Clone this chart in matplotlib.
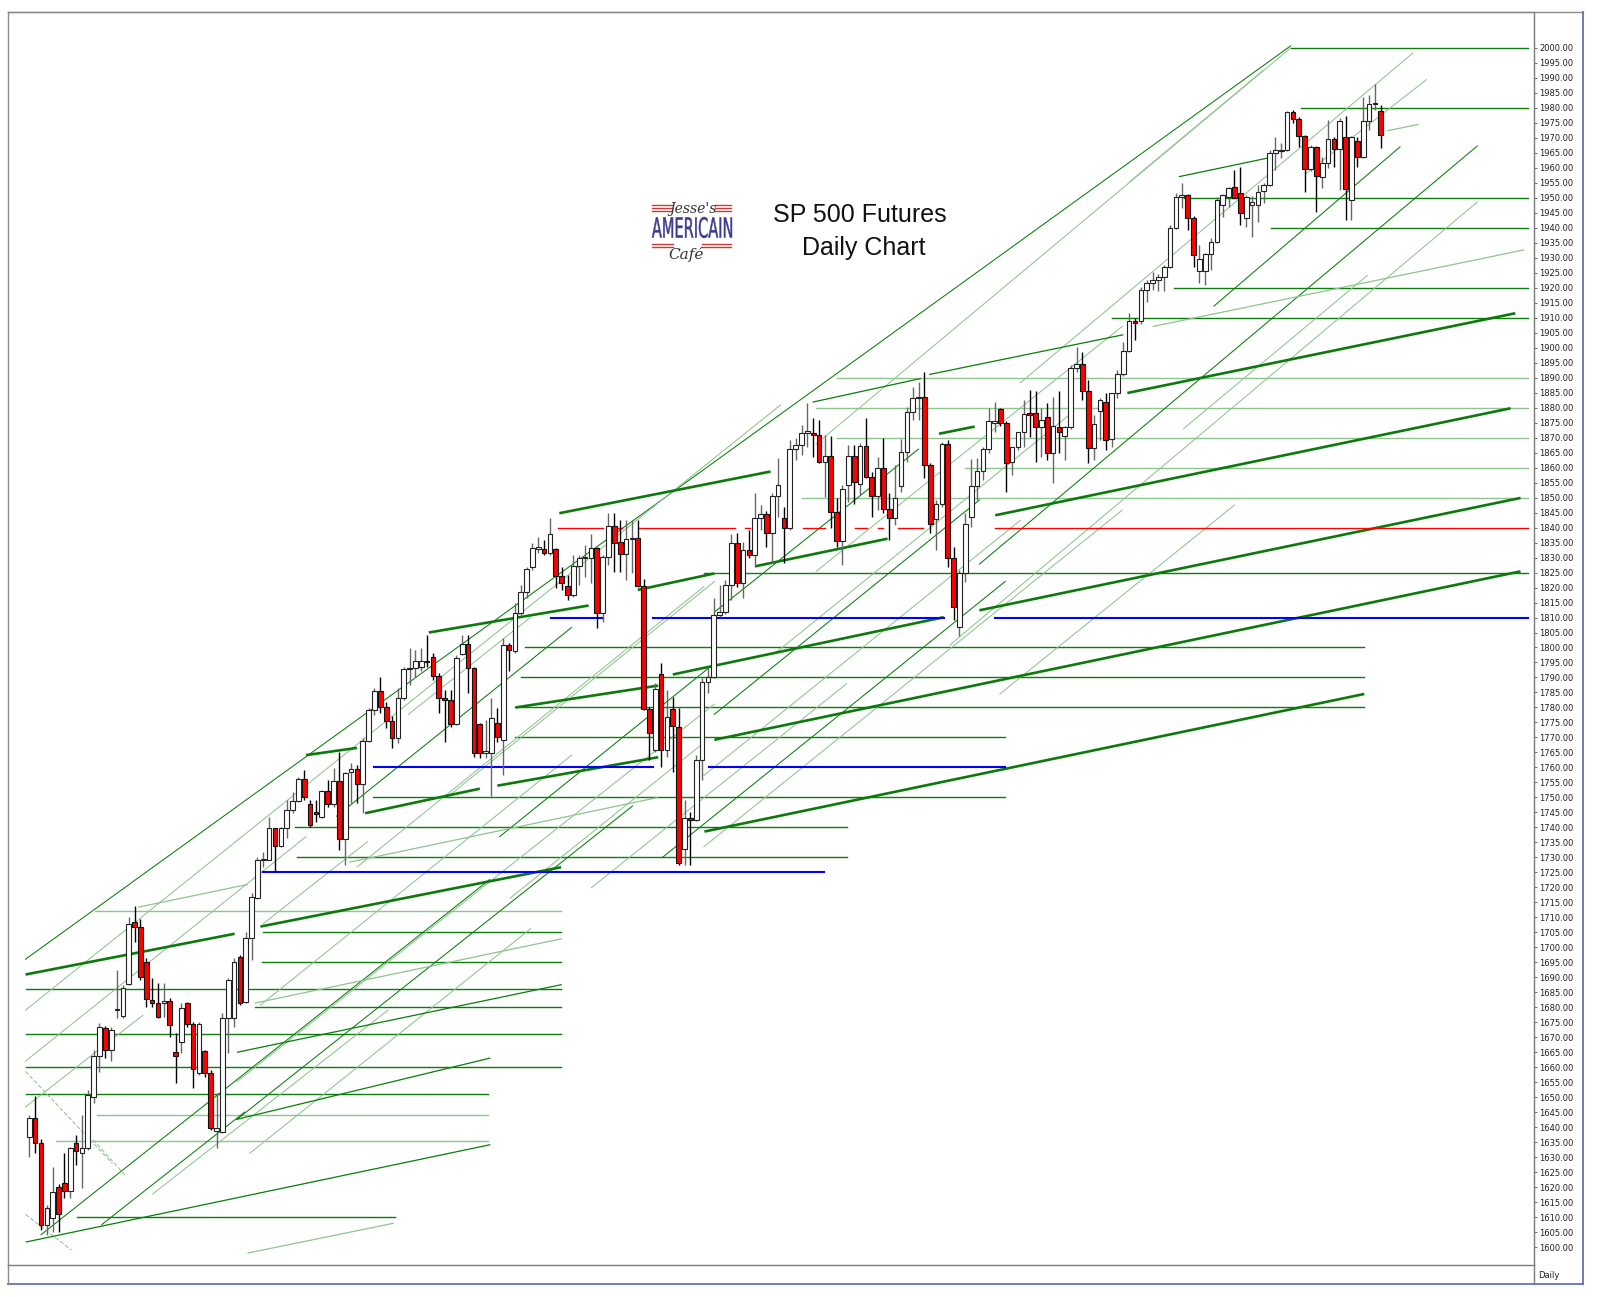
import numpy as np
import matplotlib
matplotlib.use("Agg")
import matplotlib.pyplot as plt
from matplotlib.lines import Line2D
from matplotlib.textpath import TextPath
from matplotlib.patches import PathPatch
from matplotlib.transforms import Affine2D
from matplotlib.font_manager import FontProperties

# daily OHLC, one bar per trading day
open_ = [1636.8, 1643.2, 1634.6, 1607.4, 1609.6, 1619.9, 1621.3, 1618.7, 1634.6, 1631.3,
         1632.9, 1650.2, 1663.7, 1673.2, 1665.7, 1679.0, 1677.2, 1687.7, 1708.5, 1706.7,
         1695.0, 1682.4, 1681.5, 1681.5, 1682.1, 1665.2, 1668.3, 1681.3, 1674.4, 1658.0,
         1665.4, 1658.0, 1638.7, 1638.5, 1676.3, 1676.3, 1696.9, 1681.9, 1703.0, 1716.5,
         1729.0, 1729.1, 1739.7, 1733.9, 1739.7, 1745.8, 1748.8, 1756.2, 1747.8, 1745.0,
         1743.4, 1752.0, 1747.8, 1755.6, 1736.0, 1758.6, 1759.4, 1754.4, 1768.8, 1779.2,
         1785.6, 1780.3, 1775.5, 1769.9, 1783.0, 1792.7, 1793.3, 1793.6, 1795.5, 1796.7,
         1790.5, 1783.0, 1782.4, 1774.4, 1797.8, 1801.1, 1793.1, 1774.4, 1764.7, 1764.7,
         1774.9, 1769.1, 1800.8, 1798.8, 1811.4, 1818.6, 1826.7, 1833.0, 1833.0, 1831.4,
         1832.9, 1824.0, 1820.6, 1817.5, 1827.2, 1829.7, 1829.7, 1833.1, 1811.4, 1830.3,
         1840.5, 1835.3, 1831.1, 1836.1, 1836.6, 1820.6, 1779.4, 1765.8, 1791.0, 1765.8,
         1779.4, 1773.6, 1732.7, 1743.0, 1742.5, 1762.5, 1788.6, 1790.3, 1810.8, 1811.9,
         1820.8, 1835.0, 1821.4, 1832.5, 1830.8, 1843.3, 1844.4, 1838.1, 1850.5, 1843.1,
         1839.7, 1866.1, 1867.6, 1871.7, 1871.7, 1870.9, 1862.0, 1864.0, 1845.3, 1835.5,
         1854.2, 1864.0, 1854.4, 1867.3, 1857.0, 1850.5, 1860.0, 1846.1, 1843.3, 1854.0,
         1865.1, 1878.7, 1883.1, 1883.7, 1860.9, 1842.9, 1847.8, 1867.9, 1829.7, 1807.0,
         1825.0, 1843.4, 1853.9, 1859.0, 1866.1, 1875.0, 1879.6, 1874.8, 1862.0, 1867.0,
         1871.8, 1878.1, 1878.1, 1873.5, 1876.8, 1865.0, 1873.7, 1870.6, 1873.7, 1893.1,
         1894.6, 1885.6, 1866.4, 1879.0, 1881.8, 1869.5, 1884.8, 1891.2, 1898.9, 1909.0,
         1909.0, 1919.3, 1921.5, 1922.6, 1923.5, 1926.8, 1939.8, 1950.4, 1950.9, 1943.4,
         1925.5, 1925.5, 1931.2, 1935.4, 1947.5, 1950.4, 1953.7, 1951.5, 1943.2, 1947.6,
         1947.6, 1952.3, 1954.3, 1964.9, 1965.5, 1966.0, 1978.7, 1976.2, 1970.6, 1959.5,
         1966.8, 1957.1, 1961.5, 1969.5, 1966.3, 1970.4, 1949.3, 1969.1, 1963.7, 1975.6,
         1981.2, 1979.1]
high_ = [1644.0, 1650.5, 1636.0, 1614.0, 1626.8, 1621.0, 1631.3, 1633.5, 1637.4, 1644.0,
         1652.4, 1665.7, 1674.6, 1673.7, 1673.5, 1692.4, 1687.4, 1710.2, 1713.8, 1709.3,
         1696.3, 1689.7, 1688.0, 1688.0, 1683.0, 1671.3, 1681.3, 1681.9, 1675.2, 1675.2,
         1665.7, 1659.1, 1651.3, 1678.0, 1689.7, 1696.3, 1697.4, 1705.2, 1718.0, 1730.0,
         1731.9, 1743.6, 1739.7, 1740.2, 1749.1, 1751.9, 1756.9, 1759.1, 1749.1, 1749.1,
         1752.5, 1755.8, 1759.7, 1765.3, 1758.6, 1761.4, 1760.8, 1769.7, 1779.7, 1786.4,
         1790.3, 1781.9, 1777.0, 1786.4, 1793.6, 1799.7, 1799.2, 1799.7, 1804.2, 1798.1,
         1791.4, 1785.8, 1785.8, 1797.5, 1804.2, 1804.2, 1793.6, 1774.9, 1775.8, 1783.0,
         1779.7, 1803.1, 1801.5, 1814.7, 1820.8, 1827.0, 1834.8, 1837.0, 1835.9, 1843.1,
         1833.1, 1827.0, 1824.2, 1830.9, 1830.9, 1834.2, 1838.0, 1833.6, 1830.8, 1844.8,
         1844.8, 1842.5, 1842.5, 1842.5, 1842.5, 1823.0, 1780.0, 1788.0, 1794.7, 1785.8,
         1783.6, 1779.7, 1749.1, 1745.2, 1764.1, 1789.7, 1793.6, 1816.4, 1820.8, 1822.5,
         1838.0, 1838.1, 1835.3, 1839.2, 1851.4, 1847.5, 1845.5, 1851.4, 1863.1, 1847.0,
         1869.2, 1869.8, 1874.2, 1881.7, 1876.4, 1875.9, 1870.9, 1870.6, 1849.8, 1854.2,
         1867.6, 1867.6, 1868.1, 1876.4, 1858.7, 1863.7, 1869.8, 1851.4, 1860.9, 1869.6,
         1880.3, 1887.0, 1888.7, 1892.0, 1861.5, 1849.2, 1868.7, 1869.2, 1833.6, 1826.0,
         1844.8, 1863.0, 1863.1, 1867.0, 1880.0, 1882.0, 1879.8, 1875.5, 1867.0, 1872.0,
         1882.6, 1885.9, 1885.4, 1879.8, 1881.5, 1883.7, 1885.4, 1874.0, 1894.2, 1900.4,
         1898.7, 1889.2, 1877.6, 1883.1, 1884.8, 1885.0, 1892.6, 1902.0, 1911.5, 1909.8,
         1920.4, 1922.6, 1925.4, 1924.5, 1927.6, 1940.9, 1951.5, 1954.9, 1951.2, 1943.8,
         1934.3, 1931.5, 1936.5, 1950.4, 1951.2, 1953.7, 1959.3, 1960.4, 1951.0, 1950.5,
         1954.3, 1954.8, 1966.0, 1970.4, 1968.2, 1979.1, 1979.3, 1977.0, 1971.0, 1967.6,
         1967.2, 1963.7, 1976.0, 1970.4, 1976.5, 1977.4, 1970.8, 1970.4, 1983.8, 1984.3,
         1988.0, 1981.0]
low_ = [1630.0, 1631.3, 1605.7, 1604.0, 1605.1, 1605.0, 1616.3, 1616.3, 1627.4, 1619.6,
        1632.4, 1648.0, 1658.5, 1663.0, 1661.9, 1676.3, 1676.3, 1687.4, 1701.9, 1689.1,
        1680.2, 1680.2, 1676.3, 1676.8, 1670.2, 1654.6, 1664.6, 1673.5, 1653.0, 1657.4,
        1656.8, 1639.0, 1632.9, 1638.0, 1664.6, 1673.5, 1680.7, 1681.3, 1695.8, 1716.0,
        1726.9, 1729.0, 1725.2, 1733.5, 1736.3, 1744.7, 1748.6, 1749.1, 1740.2, 1741.9,
        1743.0, 1746.9, 1746.9, 1732.5, 1727.4, 1748.0, 1748.0, 1744.7, 1768.5, 1777.5,
        1778.0, 1773.0, 1766.4, 1768.0, 1782.5, 1787.5, 1790.3, 1792.0, 1793.5, 1789.2,
        1778.0, 1768.6, 1773.6, 1774.0, 1797.5, 1784.7, 1763.5, 1763.0, 1763.0, 1750.3,
        1768.6, 1757.5, 1792.0, 1798.0, 1810.8, 1816.4, 1825.8, 1831.4, 1830.9, 1830.9,
        1819.7, 1819.2, 1815.8, 1817.0, 1820.8, 1823.6, 1821.4, 1806.4, 1808.6, 1827.5,
        1825.3, 1825.3, 1822.5, 1824.7, 1820.3, 1779.0, 1762.5, 1765.2, 1760.2, 1763.6,
        1758.6, 1727.5, 1727.4, 1727.4, 1742.0, 1755.8, 1784.7, 1789.8, 1810.2, 1811.2,
        1816.0, 1820.3, 1816.4, 1830.0, 1827.0, 1839.2, 1833.6, 1828.1, 1843.6, 1828.1,
        1839.2, 1862.5, 1864.2, 1867.0, 1863.7, 1861.5, 1850.3, 1839.7, 1833.6, 1827.5,
        1848.6, 1848.0, 1850.9, 1856.4, 1843.6, 1845.9, 1844.8, 1835.8, 1840.9, 1852.0,
        1862.0, 1875.9, 1876.0, 1856.4, 1838.1, 1832.5, 1847.0, 1827.0, 1809.2, 1804.0,
        1822.0, 1840.3, 1849.2, 1856.0, 1865.0, 1872.0, 1874.0, 1852.0, 1857.6, 1866.0,
        1867.0, 1870.3, 1862.0, 1863.7, 1862.6, 1854.8, 1864.8, 1862.6, 1873.0, 1892.0,
        1882.6, 1861.4, 1862.6, 1869.2, 1865.9, 1867.0, 1883.1, 1890.5, 1898.5, 1902.6,
        1908.0, 1915.4, 1919.3, 1919.0, 1919.0, 1926.5, 1939.5, 1946.5, 1939.3, 1927.0,
        1921.5, 1921.0, 1925.9, 1935.0, 1943.7, 1947.0, 1949.8, 1941.0, 1940.4, 1937.1,
        1942.0, 1948.2, 1954.0, 1959.3, 1963.2, 1965.5, 1974.9, 1967.1, 1952.0, 1959.0,
        1945.4, 1953.2, 1959.9, 1960.4, 1952.6, 1942.6, 1942.6, 1960.4, 1963.2, 1972.6,
        1979.3, 1966.5]
close_ = [1643.2, 1634.6, 1607.4, 1612.9, 1618.5, 1611.0, 1618.8, 1632.9, 1632.0, 1632.9,
          1650.7, 1663.7, 1673.3, 1665.7, 1672.4, 1679.2, 1686.3, 1707.7, 1706.7, 1690.2,
          1682.6, 1681.5, 1676.6, 1682.0, 1673.9, 1663.8, 1679.6, 1674.4, 1659.3, 1674.4,
          1658.0, 1639.6, 1639.6, 1676.3, 1689.1, 1695.0, 1681.3, 1703.0, 1716.7, 1729.1,
          1729.5, 1739.7, 1733.9, 1739.7, 1745.8, 1748.8, 1756.2, 1750.0, 1740.8, 1744.3,
          1752.0, 1747.8, 1755.6, 1736.0, 1758.0, 1759.4, 1754.4, 1768.8, 1779.2, 1785.6,
          1780.3, 1775.5, 1769.9, 1783.0, 1792.7, 1793.3, 1795.5, 1795.5, 1795.0, 1790.5,
          1783.0, 1782.4, 1774.4, 1796.4, 1801.1, 1793.1, 1764.7, 1764.7, 1765.6, 1776.4,
          1770.0, 1800.8, 1799.0, 1811.4, 1818.6, 1826.2, 1833.1, 1833.3, 1831.4, 1837.9,
          1824.0, 1821.4, 1817.5, 1827.2, 1829.7, 1830.2, 1833.1, 1811.4, 1830.3, 1840.5,
          1834.9, 1831.1, 1836.1, 1836.6, 1820.6, 1779.4, 1771.6, 1786.2, 1765.8, 1776.9,
          1773.8, 1728.0, 1743.0, 1742.5, 1762.5, 1788.6, 1790.3, 1810.8, 1811.9, 1820.8,
          1835.0, 1821.4, 1832.5, 1830.8, 1843.3, 1844.4, 1838.1, 1850.5, 1854.2, 1839.7,
          1866.1, 1867.6, 1871.7, 1872.1, 1870.9, 1862.0, 1864.0, 1845.3, 1835.5, 1852.8,
          1864.0, 1855.3, 1867.3, 1857.0, 1850.5, 1860.0, 1846.1, 1843.3, 1850.0, 1865.1,
          1878.7, 1883.1, 1883.5, 1860.9, 1841.1, 1847.8, 1867.9, 1829.7, 1813.6, 1825.0,
          1841.1, 1853.9, 1859.0, 1866.1, 1875.6, 1875.6, 1874.8, 1861.4, 1867.0, 1871.8,
          1877.8, 1877.4, 1873.5, 1876.0, 1865.0, 1873.9, 1872.0, 1873.7, 1893.1, 1894.6,
          1885.6, 1866.4, 1874.6, 1882.6, 1869.2, 1884.8, 1891.2, 1898.9, 1909.0, 1908.1,
          1919.3, 1921.7, 1922.6, 1923.5, 1926.8, 1939.8, 1950.4, 1950.9, 1943.4, 1930.9,
          1929.5, 1931.2, 1935.4, 1949.3, 1950.9, 1953.4, 1950.1, 1944.8, 1950.2, 1948.7,
          1952.1, 1954.3, 1964.9, 1966.0, 1966.1, 1978.7, 1976.2, 1970.6, 1959.5, 1966.8,
          1957.3, 1961.5, 1969.5, 1966.3, 1975.6, 1952.9, 1970.4, 1963.7, 1975.6, 1981.2,
          1981.5, 1971.0]

# horizontal green levels: price, first bar, last bar, tone
h_level = [2000, 1980, 1950, 1940, 1920, 1910, 1890, 1880, 1870, 1860, 1850, 1825,
           1800, 1790, 1780, 1770, 1750, 1740, 1730,
           1712, 1705, 1695, 1686, 1680, 1671, 1660, 1651, 1644, 1635.5, 1610]
h_start = [215.6, 217.4, 197.3, 212.2, 195.6, 185.1, 138.0, 134.5, 138.0, 160.0, 132.0, 115.4,
           84.8, 84.0, 83.1, 83.1, 58.8, 45.4, 45.7,
           11.2, 40.0, 39.8, -0.6, 38.6, -0.6, -0.6, -0.6, 11.6, 4.6, 8.1]
h_end = [256.1, 256.1, 256.1, 256.1, 256.1, 256.1, 256.1, 256.1, 256.1, 256.1, 256.1, 256.1,
         228.2, 228.2, 228.2, 166.8, 166.8, 139.8, 139.8,
         90.9, 90.9, 90.9, 90.9, 90.9, 90.9, 90.9, 78.4, 78.4, 78.4, 62.5]
h_tone = ['d', 'd', 'd', 'd', 'd', 'd', 'l', 'l', 'l', 'l', 'l', 'd',
          'd', 'd', 'd', 'd', 'd', 'd', 'd',
          'l', 'd', 'd', 'd', 'd', 'd', 'd', 'd', 'l', 'l', 'd']

# blue and red support / resistance levels (price, list of bar spans)
blue_level = [1725, 1760, 1810]
blue_spans = [[(40.0, 135.9)],
              [(59.0, 106.6), (116.2, 166.8)],
              [(89.2, 97.9), (106.6, 156.3), (165.1, 256.1)]]
red_level = 1840
red_spans = [(90.4, 98.1), (100.1, 101.3), (104.0, 120.6), (122.3, 123.2), (132.3, 136.0),
             (141.1, 143.2), (145.1, 145.9), (148.5, 152.8), (165.1, 256.1)]

# steep fan lines: bar0, price0, bar1, price1, tone
s_x0 = [-0.65, -0.65, -0.65, -0.65, 2.0, 35.5, 35.5, 39.5, 40.0, 37.7,
        52.5, 56.0, 71.7, 80.4, 82.2, 96.1, 108.3, 115.3, 115.3, 117.1,
        127.5, 134.5, 134.5, 157.4, 162.4, 169.4, 218.2, 197.3, 202.5, 188.1,
        165.9, 117.1, 64.8, 21.1, 12.4]
s_p0 = [1696.0, 1679.0, 1662.0, 1646.7, 1604.1, 1642.6, 1655.2, 1680.7, 1707.9, 1631.3,
        1743.7, 1726.7, 1750.5, 1736.9, 1716.4, 1719.9, 1730.1, 1733.5, 1757.3, 1777.7,
        1798.1, 1825.4, 1867.9, 1800.9, 1827.8, 1888.3, 1958.1, 1873.0, 1913.9, 1955.4,
        1784.5, 1811.8, 1777.7, 1617.7, 1607.5]
s_x1 = [215.6, 128.4, 47.3, 19.4, 78.7, 103.1, 117.1, 92.7, 57.8, 85.7,
        92.7, 115.3, 117.1, 117.1, 115.3, 139.7, 166.8, 186.8, 169.4, 162.4,
        178.1, 186.8, 215.6, 247.5, 247.5, 236.5, 238.8, 228.7, 234.3, 210.9,
        206.0, 152.0, 85.7, 61.3, 36.8]
s_p1 = [2000.7, 1880.9, 1736.9, 1677.3, 1722.6, 1747.1, 1781.1, 1764.1, 1735.2, 1706.2,
        1806.7, 1820.3, 1822.0, 1794.7, 1768.2, 1787.9, 1822.0, 1845.8, 1842.4, 1849.2,
        1878.1, 1907.1, 2000.0, 1948.6, 1967.3, 1998.3, 1989.4, 1924.1, 1967.0, 1992.5,
        1847.5, 1866.2, 1810.1, 1679.0, 1645.0]
s_tone = ['d', 'l', 'l', 'l', 'd', 'd', 'l', 'l', 'l', 'l',
          'd', 'l', 'l', 'd', 'l', 'l', 'd', 'l', 'l', 'd',
          'l', 'l', 'l', 'l', 'd', 'l', 'l', 'l', 'd', 'l',
          'l', 'd', 'l', 'l', 'd']

# falling dashed diagonals near the first low
f_x0 = [-0.65, -0.65, 10.9]
f_p0 = [1658.6, 1610.9, 1635.8]
f_x1 = [14.2, 7.2, 16.6]
f_p1 = [1627.9, 1599.0, 1623.5]

# shallow heavy lines
t_x0 = [-0.65, 39.5, 47.3, 57.4, 68.3, 80.0, 83.1, 90.6, 104.0, 110.0, 115.4, 117.1, 124.1, 155.5,
        162.4, 165.1, 187.7]
t_p0 = [1690.9, 1706.9, 1764.1, 1744.7, 1805.0, 1753.9, 1780.0, 1844.8, 1819.2, 1791.0, 1738.6,
        1769.2, 1827.1, 1871.3, 1812.4, 1844.1, 1884.9]
t_x1 = [35.1, 90.9, 56.0, 77.0, 95.6, 107.5, 107.5, 126.7, 117.1, 156.3, 228.2, 254.9, 146.7, 161.6,
        254.9, 253.2, 254.0]
t_p1 = [1704.5, 1726.7, 1766.5, 1752.9, 1814.0, 1763.4, 1787.3, 1858.7, 1824.7, 1810.1, 1784.5,
        1825.4, 1836.3, 1873.7, 1849.9, 1879.8, 1911.5]

# shallow thin lines
u_x0 = [153.9, 134.0, 196.6, 192.1, 232.2, -0.5, 37.4, 38.6, 35.6, 35.5, 18.7, 54.8]
u_p0 = [1891.1, 1881.9, 1957.1, 1907.1, 1972.4, 1601.7, 1598.0, 1681.4, 1665.0, 1642.6, 1713.4,
        1728.4]
u_x1 = [186.9, 152.3, 211.5, 255.4, 237.4, 78.7, 62.2, 90.9, 90.9, 78.7, 37.2, 107.3]
u_p1 = [1904.3, 1889.7, 1963.2, 1932.6, 1974.5, 1634.1, 1607.9, 1702.8, 1687.5, 1663.0, 1720.9,
        1749.9]
u_tone = ['d', 'd', 'd', 'l', 'l', 'd', 'l', 'l', 'd', 'd', 'l', 'l']

DARK = '#0a7d0a'
LIGHT = '#8ec48e'
tone_color = {'d': DARK, 'l': LIGHT}

W, H = 1600, 1297
fig = plt.figure(figsize=(W / 100, H / 100), dpi=100)
ax = fig.add_axes([8 / W, 1 - 1265 / H, (1534 - 8) / W, (1265 - 12) / H])
ax.set_xlim(-3.64, 257.2)
ax.set_ylim(1594.0, 2012.0)

for lv, a, b, tn in zip(h_level, h_start, h_end, h_tone):
    ax.plot([a, b], [lv, lv], color=tone_color[tn], lw=1.0, zorder=1)

for x0, p0, x1, p1, tn in zip(s_x0, s_p0, s_x1, s_p1, s_tone):
    ax.plot([x0, x1], [p0, p1], color=tone_color[tn], lw=0.75, zorder=1.2)

for x0, p0, x1, p1 in zip(f_x0, f_p0, f_x1, f_p1):
    ax.plot([x0, x1], [p0, p1], color=LIGHT, lw=0.75, ls=(0, (4, 2)), zorder=1.2)

for x0, p0, x1, p1, tn in zip(u_x0, u_p0, u_x1, u_p1, u_tone):
    ax.plot([x0, x1], [p0, p1], color=tone_color[tn], lw=0.9, zorder=1.3)

for x0, p0, x1, p1 in zip(t_x0, t_p0, t_x1, t_p1):
    ax.plot([x0, x1], [p0, p1], color='#0b7a0b', lw=1.9, zorder=1.5, solid_capstyle='butt')

for lv, spans in zip(blue_level, blue_spans):
    for a, b in spans:
        ax.plot([a, b], [lv, lv], color='#0000ff', lw=1.5, zorder=2)
for a, b in red_spans:
    ax.plot([a, b], [red_level, red_level], color='#ff0000', lw=1.0, zorder=2)

# candles
o = np.array(open_)
h = np.array(high_)
l = np.array(low_)
c = np.array(close_)
idx = np.arange(len(o))
up = c >= o
ax.vlines(idx[up], l[up], h[up], color='#666666', lw=1.0, zorder=3)
ax.vlines(idx[~up], l[~up], h[~up], color='#000000', lw=1.0, zorder=3)
body_lo = np.minimum(o, c)
body_h = np.maximum(np.abs(c - o), 0.45)
ax.bar(idx[up], body_h[up], bottom=body_lo[up], width=0.8, color='white',
       edgecolor='#222222', linewidth=0.8, zorder=4)
ax.bar(idx[~up], body_h[~up], bottom=body_lo[~up], width=0.8, color='#ff0000',
       edgecolor='#111111', linewidth=0.8, zorder=4)

# right price scale
ax.yaxis.tick_right()
ticks = np.arange(1600, 2001, 5)
ax.set_yticks(ticks)
ax.set_yticklabels([f'{t:.2f}' for t in ticks], fontsize=6, color='#202020',
                   family='DejaVu Sans')
ax.tick_params(axis='y', length=2, width=0.6, pad=2, colors='#555555', labelcolor='#202020')
ax.set_xticks([])
for side in ['top', 'left']:
    ax.spines[side].set_color('#8a8a8a')
for side in ['right', 'bottom']:
    ax.spines[side].set_color('#7a7a7a')
for sp in ax.spines.values():
    sp.set_linewidth(1.0)


def fline(x0, y0, x1, y1, color, lw=1.0):
    fig.add_artist(Line2D([x0 / W, x1 / W], [1 - y0 / H, 1 - y1 / H],
                          color=color, lw=lw, transform=fig.transFigure))


# outer frame and the small "Daily" cell
fline(8, 12, 1583, 12, '#8a8a8a')
fline(1583, 12, 1583, 1284, '#5f74b5', 1.3)
fline(8, 1284, 1583, 1284, '#5f74b5', 1.3)
fline(8, 1265, 8, 1284, '#8a8a8a')
fline(1534, 1265, 1534, 1284, '#7a7a7a')
fig.text(1538 / W, 1 - 1275 / H, 'Daily', fontsize=6, color='#202020',
         family='DejaVu Sans', va='center', ha='left')

# title
fig.text(860 / W, 1 - 222 / H, 'SP 500 Futures', fontsize=18, color='#111111',
         family='Liberation Sans', ha='center', va='baseline')
fig.text(864 / W, 1 - 255 / H, 'Daily Chart', fontsize=18, color='#111111',
         family='Liberation Sans', ha='center', va='baseline')

# logo
for yy in (205, 208, 211):
    fline(652, yy, 672, yy, '#c83c3c', 1.0)
    fline(715, yy, 731, yy, '#c83c3c', 1.0)
for yy in (244, 247):
    fline(652, yy, 673, yy, '#c83c3c', 1.0)
    fline(702, yy, 731, yy, '#c83c3c', 1.0)
fig.text(693 / W, 1 - 213 / H, "Jesse's", fontsize=10, style='italic', color='#333333',
         family='DejaVu Serif', ha='center', va='baseline')
fig.text(686 / W, 1 - 259 / H, 'Café', fontsize=11, style='italic', color='#333333',
         family='DejaVu Serif', ha='center', va='baseline')
tp = TextPath((0, 0), 'AMERICAIN', size=10, prop=FontProperties(family='DejaVu Sans'))
bb = tp.get_extents()
tr = (Affine2D().translate(-bb.x0, -bb.y0)
      .scale(80 / bb.width, 21 / bb.height)
      .translate(652, H - 238).scale(1 / 100) + fig.dpi_scale_trans)
fig.add_artist(PathPatch(tp, transform=tr, facecolor='#3b3b8f', edgecolor='#3b3b8f', lw=0.3))

fig.savefig('out.png', dpi=100, facecolor='white')
